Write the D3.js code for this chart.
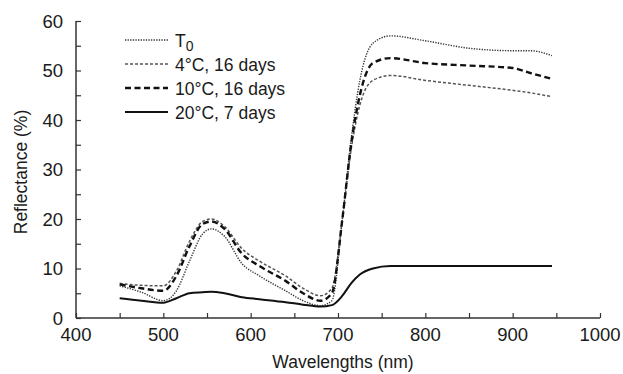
<!DOCTYPE html>
<html>
<head>
<meta charset="utf-8">
<script src="https://cdn.jsdelivr.net/npm/d3@7"></script>
<style>
  body { margin: 0; background: #fff; }
  text { font-family: "Liberation Sans", Arial, sans-serif; fill: #1a1a1a; }
</style>
</head>
<body>
<svg id="chart" width="623" height="374"></svg>
<script>
// wavelengths (nm) where values were read
var wl = [450, 475, 500, 515, 530, 545, 555, 570, 590, 610, 640, 660, 680, 693, 705, 715, 725, 740, 760, 800, 850, 900, 920, 945];

var t0     = [6.5, 5.2, 3.5, 5.5, 11.5, 17, 18, 16.5, 11, 8.5, 5.5, 3.5, 2.5, 3.5, 20, 36, 48, 55.5, 57, 56, 54.5, 54, 54, 53];
var c4d16  = [7.0, 6.6, 6.5, 9.5, 15.5, 19.5, 20, 18.5, 14, 11.5, 8.5, 6, 4.5, 6, 20, 34, 43, 48, 49, 48, 47, 46, 45.5, 44.7];
var c10d16 = [6.8, 6.0, 5.5, 8.5, 14.5, 19, 19.5, 18, 13, 10.5, 7.5, 5, 3.5, 5, 20, 35, 45, 51.5, 52.5, 51.5, 51, 50.5, 49.5, 48.3];
var c20d7  = [4.0, 3.5, 3.1, 4.0, 5.0, 5.2, 5.3, 5.0, 4.2, 3.8, 3.2, 2.7, 2.3, 2.6, 4.5, 7.0, 8.8, 10.0, 10.5, 10.5, 10.5, 10.5, 10.5, 10.5];

var seriesNames = ["T0", "4\u00B0C, 16 days", "10\u00B0C, 16 days", "20\u00B0C, 7 days"];
var xTicks = [400, 500, 600, 700, 800, 900, 1000];
var yTicks = [0, 10, 20, 30, 40, 50, 60];

var svg = d3.select("#chart");

var x = d3.scaleLinear().domain([400, 1000]).range([76, 600]);
var y = d3.scaleLinear().domain([0, 60]).range([318, 21]);

var styles = [
  { w: 1.4, dash: "1.3,1.3", color: "#333" },
  { w: 1.5, dash: "3,2", color: "#555" },
  { w: 2.4, dash: "6,3.5", color: "#111" },
  { w: 2, dash: null, color: "#111" }
];
var allSeries = [t0, c4d16, c10d16, c20d7];

// axes
var xAxis = d3.axisBottom(x).tickValues(d3.range(400, 1001, 50)).tickSize(-5).tickFormat("");
var gx = svg.append("g").attr("transform", "translate(0," + y(0) + ")").call(xAxis);
var yAxis = d3.axisLeft(y).tickValues(d3.range(0, 61, 5)).tickSize(-5).tickFormat("");
var gy = svg.append("g").attr("transform", "translate(" + x(400) + ",0)").call(yAxis);
svg.selectAll(".domain").attr("stroke", "#333").attr("stroke-width", 1.5);
svg.selectAll(".tick line").attr("stroke", "#333").attr("stroke-width", 1.2);
gy.select(".domain").attr("d", "M0," + y(60) + "H0V" + y(0));
gx.select(".domain").attr("d", "M" + x(400) + ",0H" + x(1000));

svg.selectAll(".xlab").data(xTicks).enter().append("text")
  .attr("x", function(d) { return x(d); })
  .attr("y", y(0) + 23)
  .attr("text-anchor", "middle")
  .style("font-size", "18.5px")
  .text(function(d) { return d; });

svg.selectAll(".ylab").data(yTicks).enter().append("text")
  .attr("x", 63)
  .attr("y", function(d) { return y(d) + 6.5; })
  .attr("text-anchor", "end")
  .style("font-size", "18.5px")
  .text(function(d) { return d; });

svg.append("text")
  .attr("x", 343).attr("y", 368)
  .attr("text-anchor", "middle")
  .style("font-size", "17.5px")
  .text("Wavelengths (nm)");

svg.append("text")
  .attr("transform", "translate(27," + 172 + ") rotate(-90)")
  .attr("text-anchor", "middle")
  .style("font-size", "17.5px")
  .text("Reflectance (%)");

// lines
var line = d3.line()
  .x(function(d, i) { return x(wl[i]); })
  .y(function(d) { return y(d); })
  .curve(d3.curveMonotoneX);

allSeries.forEach(function(s, i) {
  svg.append("path")
    .attr("d", line(s))
    .attr("fill", "none")
    .attr("stroke", styles[i].color)
    .attr("stroke-width", styles[i].w)
    .attr("stroke-dasharray", styles[i].dash);
});

// legend
var legendY = [40, 64, 88, 112];
seriesNames.forEach(function(name, i) {
  svg.append("line")
    .attr("x1", 125).attr("x2", 168)
    .attr("y1", legendY[i]).attr("y2", legendY[i])
    .attr("stroke", styles[i].color)
    .attr("stroke-width", styles[i].w)
    .attr("stroke-dasharray", styles[i].dash);
  var t = svg.append("text")
    .attr("x", 175).attr("y", legendY[i] + 6.5)
    .style("font-size", "17.5px");
  if (i === 0) {
    t.text("T");
    t.append("tspan").attr("dy", 4).style("font-size", "14px").text("0");
  } else {
    t.text(name);
  }
});
</script>
</body>
</html>
